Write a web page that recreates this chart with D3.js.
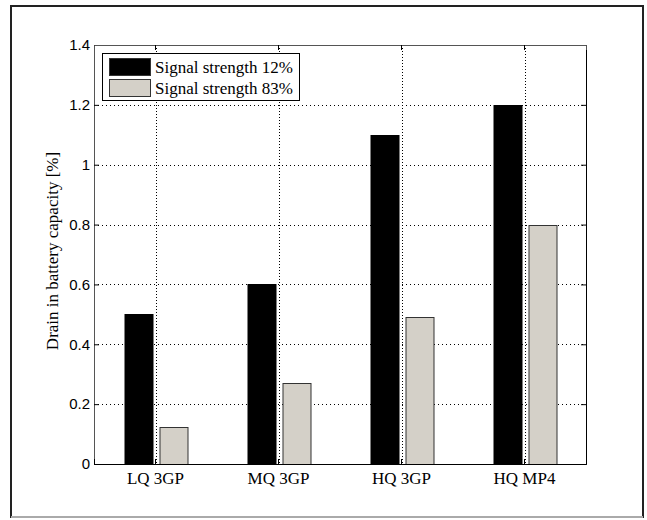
<!DOCTYPE html>
<html>
<head>
<meta charset="utf-8">
<script src="https://cdn.jsdelivr.net/npm/d3@7"></script>
<style>
  body { margin: 0; background: #fff; }
  svg text { font-family: "Liberation Serif", "DejaVu Serif", serif; fill: #000; }
  svg text.num { font-family: "Liberation Sans", Arial, sans-serif; }
</style>
</head>
<body>
<div id="graph"></div>
<script>
// data
var categories = ["LQ 3GP", "MQ 3GP", "HQ 3GP", "HQ MP4"];
var seriesNames = ["Signal strength 12%", "Signal strength 83%"];
var weak = [0.5, 0.6, 1.1, 1.2];       // 12% signal
var strong = [0.125, 0.27, 0.49, 0.8]; // 83% signal
var yTicks = [0, 0.2, 0.4, 0.6, 0.8, 1, 1.2, 1.4];
var colors = ["#000000", "#d4d0c8"];

var width = 647, height = 520;
var plotLeft = 94, plotRight = 586, plotTop = 45, plotBottom = 464;

var svg = d3.select("#graph").append("svg")
  .attr("width", width)
  .attr("height", height);

// outer frame
svg.append("rect")
  .attr("x", 11).attr("y", 6)
  .attr("width", 632).attr("height", 511)
  .attr("fill", "none")
  .attr("stroke", "#222")
  .attr("stroke-width", 2);
svg.append("line")
  .attr("x1", 11).attr("x2", 643).attr("y1", 517).attr("y2", 517)
  .attr("stroke", "#aaa").attr("stroke-width", 2);

var x = d3.scaleBand().domain(categories).range([plotLeft, plotRight]);
var y = d3.scaleLinear().domain([0, 1.4]).range([plotBottom, plotTop]);

// grid (dotted)
svg.append("g").selectAll("line")
  .data(yTicks.filter(function(d) { return d > 0 && d < 1.4; }))
  .enter().append("line")
  .attr("x1", plotLeft).attr("x2", plotRight)
  .attr("y1", function(d) { return Math.round(y(d)) + 0.5; })
  .attr("y2", function(d) { return Math.round(y(d)) + 0.5; })
  .attr("stroke", "#000").attr("stroke-dasharray", "1,3");
svg.append("g").selectAll("line")
  .data(categories)
  .enter().append("line")
  .attr("x1", function(d) { return Math.round(x(d) + x.bandwidth() / 2) + 0.5; })
  .attr("x2", function(d) { return Math.round(x(d) + x.bandwidth() / 2) + 0.5; })
  .attr("y1", plotTop).attr("y2", plotBottom)
  .attr("stroke", "#000").attr("stroke-dasharray", "1,2");

// bars
var barW = 28, gap = 7;
var groups = [weak, strong];
groups.forEach(function(vals, i) {
  svg.append("g").selectAll("rect")
    .data(vals)
    .enter().append("rect")
    .attr("x", function(d, j) {
      var c = Math.round(x(categories[j]) + x.bandwidth() / 2);
      return (i === 0 ? c - gap / 2 - barW : c + gap / 2) + 0.5;
    })
    .attr("y", function(d) { return Math.round(y(d)) + 0.5; })
    .attr("width", barW)
    .attr("height", function(d) { return plotBottom - Math.round(y(d)); })
    .attr("fill", colors[i])
    .attr("stroke", i === 0 ? "#000" : "#333")
    .attr("stroke-width", 1);
});

// axes box with inward ticks
var yAxisL = d3.axisLeft(y).tickValues(yTicks).tickSize(-5).tickPadding(4)
  .tickFormat(function(d) { return String(+d.toFixed(1)); });
var gL = svg.append("g").attr("transform", "translate(" + plotLeft + ",0)").call(yAxisL);
gL.selectAll("text").attr("class", "num").style("font-size", "15px");

var yAxisR = d3.axisRight(y).tickValues(yTicks).tickSize(-5).tickFormat("");
var gR = svg.append("g").attr("transform", "translate(" + plotRight + ",0)").call(yAxisR);

var xAxisB = d3.axisBottom(x).tickSize(-5);
var gB = svg.append("g").attr("transform", "translate(0," + plotBottom + ")").call(xAxisB);
gB.selectAll("text").attr("y", 20).attr("dy", null).style("font-size", "17px");

var xAxisT = d3.axisTop(x).tickSize(-5).tickFormat("");
var gT = svg.append("g").attr("transform", "translate(0," + plotTop + ")").call(xAxisT);

[gL, gR, gB, gT].forEach(function(g) { g.attr("font-family", null).attr("font-size", null); });
svg.selectAll(".domain").attr("stroke", "#000");
gL.select(".domain").attr("stroke", "#555");
gT.select(".domain").attr("stroke", "#555");
svg.selectAll(".tick line").attr("stroke", "#000");

// y label
svg.append("text")
  .attr("transform", "translate(58," + 251 + ") rotate(-90)")
  .attr("text-anchor", "middle")
  .style("font-size", "17px")
  .text("Drain in battery capacity [%]");

// legend
var lg = svg.append("g");
lg.append("rect")
  .attr("x", 102.5).attr("y", 53.5)
  .attr("width", 197).attr("height", 47)
  .attr("fill", "#fff").attr("stroke", "#000");
seriesNames.forEach(function(name, i) {
  lg.append("rect")
    .attr("x", 109.5).attr("y", 58.5 + i * 21)
    .attr("width", 41).attr("height", 17)
    .attr("fill", colors[i]).attr("stroke", "#333");
  lg.append("text")
    .attr("x", 155).attr("y", 73 + i * 21)
    .style("font-size", "17px")
    .text(name);
});
</script>
</body>
</html>
